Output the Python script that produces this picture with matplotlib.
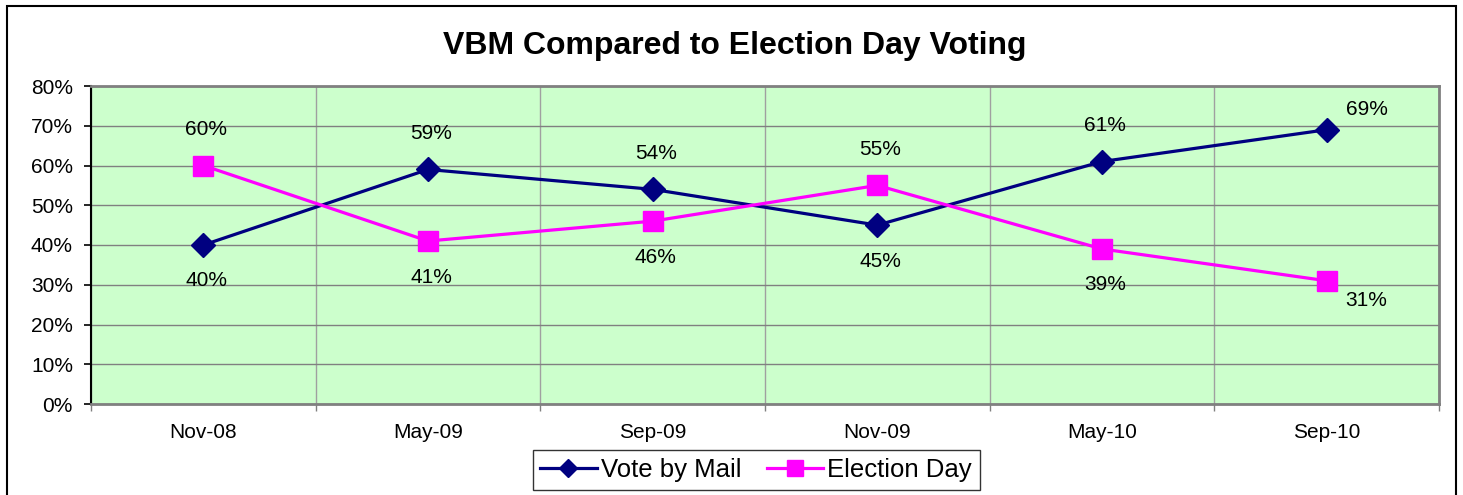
import matplotlib
matplotlib.use("Agg")
from matplotlib import pyplot as plt
from matplotlib.patches import Rectangle
from matplotlib.ticker import FixedLocator, PercentFormatter

# Datos del grafico
months = ["Nov-08", "May-09", "Sep-09", "Nov-09", "May-10", "Sep-10"]
vbm = [40, 59, 54, 45, 61, 69]
election_day = [60, 41, 46, 55, 39, 31]

plt.rcParams["font.family"] = ["Liberation Sans", "DejaVu Sans"]

fig = plt.figure(figsize=(14.63, 4.95), dpi=100)
ax = fig.add_axes([91 / 1463, 1 - 404 / 495, (1439 - 91) / 1463, (404 - 86) / 495])

# marco exterior del grafico (el borde de abajo queda fuera de la imagen)
fig.patches.append(Rectangle((7 / 1463, -0.05), (1456 - 7) / 1463, 1.05 - 6 / 495,
                             transform=fig.transFigure, fill=False, edgecolor="black", linewidth=1.5))

ax.set_facecolor("#CCFFCC")
x = list(range(len(months)))

ax.plot(x, vbm, color="#000080", linewidth=2.3, marker="D", markersize=12, label="Vote by Mail", zorder=3)
ax.plot(x, election_day, color="#FF00FF", linewidth=2.3, marker="s", markersize=14, label="Election Day", zorder=3)

# etiquetas de datos: la serie mayor arriba, la menor abajo
for i in x:
    for val, other in ((vbm[i], election_day[i]), (election_day[i], vbm[i])):
        dx = 40 if i == len(x) - 1 else 3
        dy = 20 if i == len(x) - 1 else 36
        off = dy if val > other else -dy
        ax.annotate(f"{val}%", (i, val), xytext=(dx * 0.72, off * 0.72), textcoords="offset points",
                    ha="center", va="center", fontsize=15, color="black", zorder=4)

ax.set_xlim(-0.5, len(months) - 0.5)
ax.set_ylim(0, 80)
ax.set_xticks(x)
ax.set_xticklabels(months, fontsize=15)
ax.xaxis.set_minor_locator(FixedLocator([i - 0.5 for i in range(len(months) + 1)]))
ax.tick_params(axis="x", which="major", length=0, pad=14)
ax.tick_params(axis="x", which="minor", length=5, color="#808080", width=1)
ax.set_yticks(range(0, 81, 10))
ax.yaxis.set_major_formatter(PercentFormatter(decimals=0))
ax.tick_params(axis="y", labelsize=15, length=5, width=1.2, color="black", pad=8)

ax.grid(True, axis="y", color="#808080", linewidth=1)
ax.grid(True, axis="x", which="minor", color="#A0A0A0", linewidth=1)
ax.set_axisbelow(True)

ax.spines["left"].set_color("black")
ax.spines["left"].set_linewidth(1.5)
for s in ("top", "right", "bottom"):
    ax.spines[s].set_color("#808080")
    ax.spines[s].set_linewidth(2)

fig.text(735 / 1463, 1 - 46 / 495, "VBM Compared to Election Day Voting", ha="center", va="center",
         fontsize=23, fontweight="bold")

leg = fig.legend(loc="center", bbox_to_anchor=(756 / 1463, 1 - 470 / 495), ncol=2, fontsize=18.5,
                 frameon=True, fancybox=False, edgecolor="black", handlelength=2.2, columnspacing=1.0,
                 handletextpad=0.15, borderpad=0.3, markerscale=0.8)
leg.get_frame().set_linewidth(1)

fig.savefig("out.png", dpi=100)
